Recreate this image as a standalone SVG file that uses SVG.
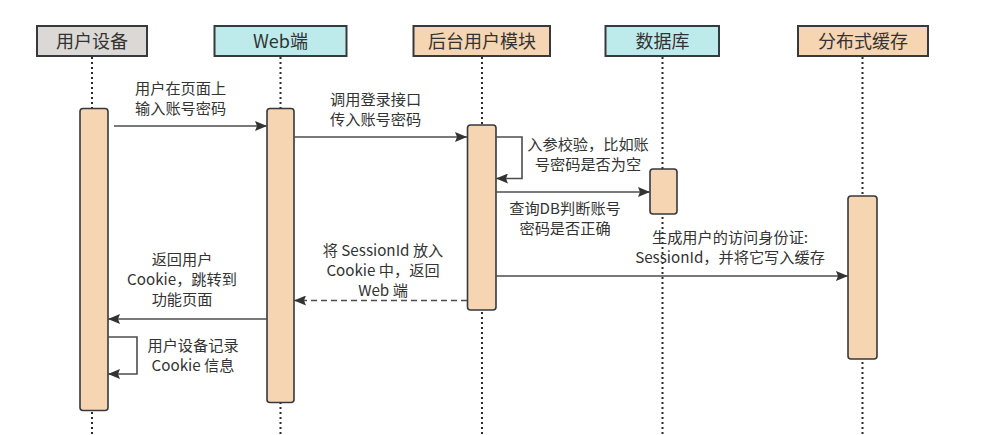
<svg xmlns="http://www.w3.org/2000/svg" width="994" height="435" viewBox="0 0 994 435">
<style>
.hdr{stroke:#36393d;stroke-width:2}
.grey{fill:#dcd8d5}
.cyan{fill:#bdebeb}
.orange{fill:#f5d5b2}
.bar{fill:#f5d5b2;stroke:#36393d;stroke-width:1.6}
.life{stroke:#2b2b2b;stroke-width:2;stroke-dasharray:2 3;fill:none}
.msg{stroke:#4d4d4d;stroke-width:1.6;fill:none}
.dash{stroke-dasharray:6 4}
text{font-family:"Noto Sans CJK SC","Liberation Sans",sans-serif;fill:#333333}
.h{font-size:18px;text-anchor:middle}
.l{font-size:15.2px}
.c{text-anchor:middle}
</style>
<defs>
<marker id="arr" viewBox="0 0 12 10" refX="12" refY="5" markerWidth="12" markerHeight="10" markerUnits="userSpaceOnUse" orient="auto">
<path d="M0,0 L12,5 L0,10 L2,5 Z" fill="#333333"/>
</marker>
</defs>
<g id="lifelines">
<line class="life" x1="92" y1="57" x2="92" y2="435"/>
<line class="life" x1="280.5" y1="57" x2="280.5" y2="435"/>
<line class="life" x1="482" y1="57" x2="482" y2="435"/>
<line class="life" x1="662.5" y1="57" x2="662.5" y2="435"/>
<line class="life" x1="862.5" y1="57" x2="862.5" y2="435"/>
</g>
<g id="node-user">
<rect class="hdr grey" x="37" y="26" width="110" height="30"/>
<text class="h" x="92" y="47.5">用户设备</text>
<rect class="bar" x="80" y="108.5" width="28" height="302" rx="3"/>
</g>
<g id="node-web">
<rect class="hdr cyan" x="214.5" y="26" width="132" height="30"/>
<text class="h" x="280.5" y="47.5">Web端</text>
<rect class="bar" x="267" y="108.5" width="27" height="294" rx="3"/>
</g>
<g id="node-backend">
<rect class="hdr orange" x="413.5" y="26" width="136.5" height="30"/>
<text class="h" x="482" y="47.5">后台用户模块</text>
<rect class="bar" x="467.5" y="125" width="28.5" height="185" rx="3"/>
</g>
<g id="node-db">
<rect class="hdr cyan" x="605.5" y="26" width="113.5" height="30"/>
<text class="h" x="662.5" y="47.5">数据库</text>
<rect class="bar" x="650" y="169" width="27" height="45" rx="3"/>
</g>
<g id="node-cache">
<rect class="hdr orange" x="798" y="26" width="130" height="30"/>
<text class="h" x="863" y="47.5">分布式缓存</text>
<rect class="bar" x="848" y="196" width="29" height="163" rx="3"/>
</g>
<g id="connectors">
<line class="msg" x1="114" y1="126" x2="267" y2="126" marker-end="url(#arr)"/>
<line class="msg" x1="294" y1="137" x2="467" y2="137" marker-end="url(#arr)"/>
<polyline class="msg" points="496,137 522,137 522,178.5 496,178.5" marker-end="url(#arr)"/>
<line class="msg" x1="496" y1="192" x2="650" y2="192" marker-end="url(#arr)"/>
<line class="msg" x1="496" y1="276" x2="848" y2="276" marker-end="url(#arr)"/>
<line class="msg dash" x1="467" y1="300.5" x2="294" y2="300.5" marker-end="url(#arr)"/>
<line class="msg" x1="267" y1="319" x2="108" y2="319" marker-end="url(#arr)"/>
<polyline class="msg" points="108,337 137,337 137,374 108,374" marker-end="url(#arr)"/>
</g>
<g id="labels">
<text class="l" x="135" y="93.5">用户在页面上</text>
<text class="l" x="135" y="113.5">输入账号密码</text>
<text class="l" x="330" y="104.5">调用登录接口</text>
<text class="l" x="330" y="124.5">传入账号密码</text>
<text class="l c" x="588" y="150">入参校验，比如账</text>
<text class="l c" x="588" y="170">号密码是否为空</text>
<text class="l c" x="565" y="214">查询DB判断账号</text>
<text class="l c" x="565" y="234">密码是否正确</text>
<text class="l c" x="730" y="243">生成用户的访问身份证:</text>
<text class="l c" x="730" y="263">SessionId，并将它写入缓存</text>
<text class="l c" x="383" y="256">将 SessionId 放入</text>
<text class="l c" x="383" y="276">Cookie 中，返回</text>
<text class="l c" x="383" y="296">Web 端</text>
<text class="l c" x="182" y="264.5">返回用户</text>
<text class="l c" x="182" y="284.5">Cookie，跳转到</text>
<text class="l c" x="182" y="304.5">功能页面</text>
<text class="l c" x="193" y="350.5">用户设备记录</text>
<text class="l c" x="193" y="370.5">Cookie 信息</text>
</g>
</svg>
